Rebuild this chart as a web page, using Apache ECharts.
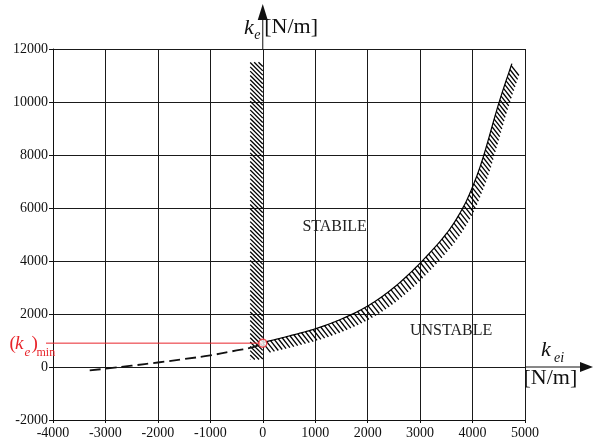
<!DOCTYPE html>
<html><head><meta charset="utf-8">
<script src="https://cdn.jsdelivr.net/npm/echarts@6/dist/echarts.min.js"></script>
<style>html,body{margin:0;padding:0;background:#fff}#c{width:593px;height:441px}</style>
</head><body><div id="c"></div>
<script>
// ---- data ----
const xTicks = [-4000, -3000, -2000, -1000, 0, 1000, 2000, 3000, 4000, 5000];
const yTicks = [-2000, 0, 2000, 4000, 6000, 8000, 10000, 12000];
// stability boundary (solid, hatched part)
const curveX = [0, 500, 1000, 1500, 2000, 2500, 3000, 3500, 3800, 4000, 4200, 4500, 4750];
const curveY = [920, 1170, 1440, 1810, 2300, 3000, 3920, 5030, 5950, 6800, 7900, 9950, 11450];
// extrapolated (dashed) part
const dashX = [-3300, -3000, -2500, -2000, -1500, -1000, -500, -200, 0];
const dashY = [-130, -65, 50, 170, 300, 440, 625, 740, 900];
// vertical hatched band (k_ei limit)
const bandX = [-240, 0];
const bandY = [280, 11500];
// minimum k_e point
const keMinPoint = [0, 900];
// region labels
const regionNames = ['STABILE', 'UNSTABLE'];
const regionPos = [[1370, 5280], [3590, 1380]];

const FONT = '"Liberation Serif", "Times New Roman", serif';
const RED = '#e8242a';

const chart = echarts.init(document.getElementById('c'), null, {renderer: 'canvas'});

// smooth pixel path through the data points (Catmull-Rom), rendering only
function smoothPath(pts) {
  const out = [];
  const n = pts.length;
  for (let i = 0; i < n - 1; i++) {
    const p0 = pts[Math.max(i - 1, 0)], p1 = pts[i], p2 = pts[i + 1], p3 = pts[Math.min(i + 2, n - 1)];
    for (let k = 0; k < 12; k++) {
      const t = k / 12, t2 = t * t, t3 = t2 * t;
      const f = (a, b, c, d) => 0.5 * ((2 * b) + (-a + c) * t + (2 * a - 5 * b + 4 * c - d) * t2 + (-a + 3 * b - 3 * c + d) * t3);
      out.push([f(p0[0], p1[0], p2[0], p3[0]), f(p0[1], p1[1], p2[1], p3[1])]);
    }
  }
  out.push(pts[n - 1]);
  return out;
}

function hatchCurve(params, api) {
  const pts = smoothPath(curveX.map((x, i) => api.coord([x, curveY[i]])));
  const children = [];
  children.push({type: 'polyline', shape: {points: pts},
    style: {stroke: '#000', lineWidth: 1.2, fill: null}});
  const step = 4.0, L = 12.5, dx = 0.62, dy = 0.785;
  let carry = 0;
  for (let i = 0; i < pts.length - 1; i++) {
    const [x0, y0] = pts[i], [x1, y1] = pts[i + 1];
    const seg = Math.hypot(x1 - x0, y1 - y0);
    let t = carry;
    while (t <= seg) {
      const px = x0 + (x1 - x0) * t / seg, py = y0 + (y1 - y0) * t / seg;
      children.push({type: 'line', shape: {x1: px, y1: py, x2: px + dx * L, y2: py + dy * L},
        style: {stroke: '#000', lineWidth: 1.3}});
      t += step;
    }
    carry = t - seg;
  }
  return {type: 'group', children};
}

function hatchBand(params, api) {
  const p0 = api.coord([bandX[0], bandY[1]]);
  const p1 = api.coord([bandX[1], bandY[0]]);
  const L = p0[0], T = p0[1], R = p1[0], B = p1[1], w = R - L;
  const children = [];
  for (let c = T - w; c < B; c += 4.3) {
    let xs = L, ys = c, xe = R, ye = c + w;
    if (ys < T) { xs += T - ys; ys = T; }
    if (ye > B) { xe -= ye - B; ye = B; }
    if (xe <= xs) continue;
    children.push({type: 'line', shape: {x1: xs, y1: ys, x2: xe, y2: ye},
      style: {stroke: '#000', lineWidth: 1.3}});
  }
  return {type: 'group', children};
}

function txt(x, y, text, font, align, fill) {
  return {type: 'text', x: x, y: y,
    style: {text: text, font: font, align: align || 'left', verticalAlign: 'middle', fill: fill || '#111'}};
}

function annotations(params, api) {
  const children = [];
  // axis arrows
  const top = api.coord([0, 12000]);
  const right = api.coord([5000, 0]);
  const W = api.getWidth();
  children.push({type: 'line', shape: {x1: top[0], y1: top[1], x2: top[0], y2: 18},
    style: {stroke: '#111', lineWidth: 1}});
  children.push({type: 'polygon', shape: {points: [[top[0], 4], [top[0] - 5, 20], [top[0] + 5, 20]]},
    style: {fill: '#111'}});
  children.push({type: 'line', shape: {x1: right[0], y1: right[1], x2: W - 10, y2: right[1]},
    style: {stroke: '#111', lineWidth: 1}});
  children.push({type: 'polygon', shape: {points: [[W, right[1]], [W - 13, right[1] - 5], [W - 13, right[1] + 5]]},
    style: {fill: '#111'}});
  // axis names
  const it22 = 'italic 22px ' + FONT, it14 = 'italic 14px ' + FONT, n22 = '22px ' + FONT;
  children.push(txt(top[0] - 9, top[1] - 21, 'k', it22, 'right'));
  children.push(txt(top[0] - 8.5, top[1] - 14, 'e', it14, 'left'));
  children.push(txt(top[0] + 1.5, top[1] - 22, '[N/m]', n22, 'left'));
  children.push(txt(right[0] + 16, right[1] - 17, 'k', it22, 'left'));
  children.push(txt(right[0] + 29, right[1] - 9, 'ei', it14, 'left'));
  children.push(txt(right[0] - 1.5, right[1] + 11, '[N/m]', n22, 'left'));
  // region labels
  regionNames.forEach((n, i) => {
    const p = api.coord(regionPos[i]);
    children.push(txt(p[0], p[1], n, '16px ' + FONT, 'center', '#222'));
  });
  // (k_e)_min marker line + label
  const pm = api.coord(keMinPoint);
  const pl = api.coord([-4000, keMinPoint[1]]);
  children.push({type: 'line', shape: {x1: pl[0] - 7, y1: pm[1], x2: pm[0], y2: pm[1]},
    style: {stroke: RED, lineWidth: 1}});
  const r18 = '19px ' + FONT, ri18 = 'italic 19px ' + FONT, ri13 = 'italic 13px ' + FONT, r12 = '12px ' + FONT;
  const bx = pl[0], by = pm[1];
  children.push(txt(bx - 43.5, by + 1, '(', r18, 'left', RED));
  children.push(txt(bx - 38, by + 1, 'k', ri18, 'left', RED));
  children.push(txt(bx - 28.5, by + 9, 'e', ri13, 'left', RED));
  children.push(txt(bx - 21.5, by + 1, ')', r18, 'left', RED));
  children.push(txt(bx - 16.5, by + 10, 'min', r12, 'left', RED));
  return {type: 'group', children};
}

const option = {
  backgroundColor: '#fff',
  animation: false,
  grid: {left: 53, right: 68, top: 49, bottom: 21},
  xAxis: {
    type: 'value', min: xTicks[0], max: xTicks[xTicks.length - 1], interval: 1000,
    axisLine: {show: true, onZero: false, lineStyle: {color: '#111', width: 1}},
    axisTick: {show: true, length: 3, lineStyle: {color: '#111'}},
    axisLabel: {color: '#111', fontFamily: FONT, fontSize: 14, margin: 6,
      formatter: v => xTicks.indexOf(v) >= 0 ? String(v) : ''},
    splitLine: {show: true, lineStyle: {color: '#1a1a1a', width: 1}}
  },
  yAxis: {
    type: 'value', min: yTicks[0], max: yTicks[yTicks.length - 1], interval: 2000,
    axisLine: {show: true, onZero: false, lineStyle: {color: '#111', width: 1}},
    axisTick: {show: true, length: 4, lineStyle: {color: '#111'}},
    axisLabel: {color: '#111', fontFamily: FONT, fontSize: 14, margin: 5,
      formatter: v => yTicks.indexOf(v) >= 0 ? String(v) : ''},
    splitLine: {show: true, lineStyle: {color: '#1a1a1a', width: 1}}
  },
  series: [
    {type: 'custom', name: 'band', data: [0], renderItem: hatchBand, clip: false, z: 3, silent: true},
    {type: 'line', name: 'dashed', data: dashX.map((x, i) => [x, dashY[i]]), showSymbol: false,
      smooth: true, lineStyle: {color: '#111', width: 1.8, type: [11, 5]}, z: 3, silent: true},
    {type: 'custom', name: 'curve', data: [0], renderItem: hatchCurve, clip: false, z: 3, silent: true},
    {type: 'custom', name: 'annot', data: [0], renderItem: annotations, clip: false, z: 4, silent: true},
    {type: 'scatter', name: 'kemin', data: [keMinPoint], symbol: 'circle', symbolSize: 8,
      itemStyle: {color: '#fff', borderColor: RED, borderWidth: 1.5}, z: 6, silent: true}
  ]
};
chart.setOption(option);
</script>
</body></html>
